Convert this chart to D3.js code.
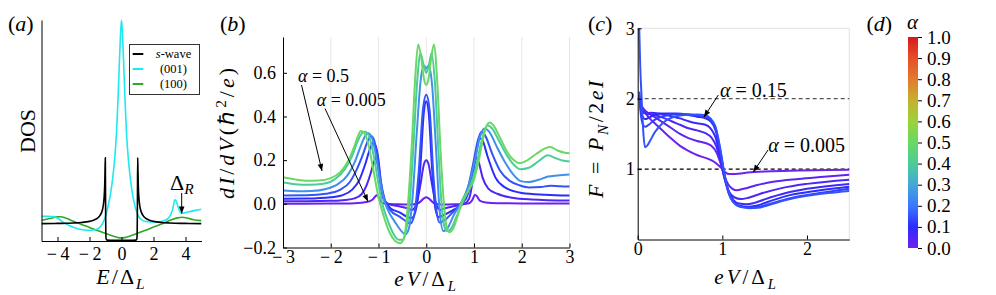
<!DOCTYPE html>
<html>
<head>
<meta charset="utf-8">
<script src="https://cdn.jsdelivr.net/npm/d3@7"></script>
<style>body{margin:0;background:#fff} text{font-family:'Liberation Serif','Times New Roman',serif}</style>
</head>
<body>
<script>
// ---------- data ----------

// panel (a): density of states
var dosSwave = [[-5,1.02],[-4,1.035],[-3,1.06],[-2.5,1.09],[-2,1.155],[-1.75,1.22],[-1.5,1.34],[-1.35,1.49],[-1.25,1.67],[-1.18,1.88],[-1.12,2.22],[-1.08,2.65],[-1.05,3.28],[-1.03,4.1],[-1.012,4.9],[-0.995,2.2],[-0.98,0.45],[-0.96,0.12],[-0.9,0.05],[-0.5,0.04],[0,0.04],
  [0.5,0.04],[0.9,0.05],[0.96,0.12],[0.98,0.45],[0.995,2.2],[1.012,4.9],[1.03,4.1],[1.05,3.28],[1.08,2.65],[1.12,2.22],[1.18,1.88],[1.25,1.67],[1.35,1.49],[1.5,1.34],[1.75,1.22],[2,1.155],[2.5,1.09],[3,1.06],[4,1.035],[5,1.02]];
var dos001 = [[-5,1.45],[-4.6,1.46],[-4.2,1.42],[-3.9,1.28],[-3.6,1.08],[-3.2,0.88],[-2.8,0.74],[-2.4,0.66],[-2,0.63],[-1.7,0.65],[-1.45,0.74],[-1.25,0.92],[-1.1,1.2],[-0.97,1.55],[-0.83,2.1],[-0.7,2.7],[-0.55,3.7],[-0.42,4.9],[-0.31,6.4],[-0.22,8.3],[-0.14,10.3],[-0.07,12.0],[0,13],
  [0.07,12.0],[0.14,10.3],[0.22,8.3],[0.31,6.4],[0.42,4.9],[0.55,3.7],[0.7,2.7],[0.83,2.1],[0.97,1.65],[1.1,1.4],[1.25,1.25],[1.45,1.16],[1.8,1.12],[2.2,1.12],[2.6,1.18],[2.9,1.32],[3.1,1.6],[3.22,1.95],[3.33,2.42],[3.42,2.35],[3.52,2.05],[3.62,1.78],[3.75,1.63],[3.9,1.64],[4.2,1.72],[4.6,1.8],[5,1.87]];
var dos100 = [[-5,1.22],[-4.5,1.32],[-4,1.42],[-3.8,1.43],[-3.5,1.35],[-3,1.16],[-2.5,0.97],[-2,0.8],[-1.5,0.62],[-1,0.45],[-0.5,0.28],[-0.2,0.2],[0,0.18],[0.2,0.2],[0.5,0.28],[1,0.45],[1.5,0.63],[2,0.82],[2.5,1.0],[3,1.2],[3.5,1.36],[3.8,1.4],[4.1,1.35],[4.5,1.25],[5,1.2]];

// panel (b): differential conductance for several alpha
var alphaB = [0.005, 0.05, 0.1, 0.15, 0.25, 0.4, 0.5];
var dIdV_005 = [[-3,0],[-2,0.001],[-1.5,0.003],[-1.25,0.008],[-1.12,0.02],[-1.05,0.038],[-1.02,0.04],[-0.98,0.02],[-0.9,0.003],[-0.6,-0.002],[-0.3,-0.003],[-0.15,0.005],[-0.05,0.025],[0,0.03],[0.05,0.025],[0.15,0.005],[0.3,-0.003],[0.6,-0.002],[0.9,0.003],[0.97,0.02],[1.02,0.042],[1.06,0.035],[1.12,0.015],[1.25,0.006],[1.5,0.003],[2,0.002],[3,0.001]];
var dIdV_05 = [[-3,0.012],[-2.5,0.012],[-2,0.014],[-1.7,0.018],[-1.5,0.025],[-1.35,0.045],[-1.25,0.085],[-1.15,0.15],[-1.08,0.2],[-1.05,0.21],[-1.01,0.18],[-0.96,0.09],[-0.9,0.025],[-0.8,0.0],[-0.6,-0.01],[-0.4,-0.02],[-0.3,-0.028],[-0.22,-0.01],[-0.12,0.09],[-0.05,0.18],[0,0.2],[0.05,0.18],[0.12,0.09],[0.22,-0.01],[0.3,-0.028],[0.4,-0.02],[0.6,-0.01],[0.8,0.0],[0.9,0.025],[0.96,0.09],[1.01,0.18],[1.06,0.21],[1.1,0.19],[1.18,0.12],[1.3,0.07],[1.5,0.045],[1.8,0.028],[2.2,0.02],[3,0.015]];
var dIdV_1 = [[-3,0.023],[-2.5,0.024],[-2,0.03],[-1.75,0.04],[-1.55,0.065],[-1.4,0.11],[-1.28,0.18],[-1.18,0.25],[-1.11,0.28],[-1.06,0.265],[-1.0,0.2],[-0.95,0.1],[-0.88,0.02],[-0.75,-0.02],[-0.55,-0.04],[-0.4,-0.06],[-0.3,-0.065],[-0.2,-0.01],[-0.12,0.18],[-0.05,0.42],[0,0.47],[0.05,0.42],[0.12,0.17],[0.19,-0.02],[0.26,-0.06],[0.38,-0.05],[0.55,-0.03],[0.75,0.0],[0.88,0.05],[0.97,0.14],[1.05,0.24],[1.12,0.3],[1.18,0.29],[1.28,0.22],[1.45,0.12],[1.65,0.075],[2.0,0.05],[2.5,0.042],[3,0.038]];
var dIdV_15 = [[-3,0.038],[-2.5,0.039],[-2.1,0.046],[-1.8,0.065],[-1.6,0.1],[-1.45,0.16],[-1.32,0.23],[-1.22,0.29],[-1.15,0.31],[-1.09,0.29],[-1.02,0.21],[-0.95,0.1],[-0.87,0.02],[-0.75,-0.03],[-0.55,-0.06],[-0.42,-0.08],[-0.33,-0.09],[-0.25,-0.05],[-0.16,0.14],[-0.07,0.43],[0,0.5],[0.07,0.43],[0.15,0.13],[0.22,-0.04],[0.28,-0.085],[0.38,-0.075],[0.55,-0.04],[0.72,0.0],[0.87,0.07],[0.98,0.18],[1.08,0.29],[1.16,0.33],[1.24,0.31],[1.38,0.23],[1.55,0.15],[1.75,0.105],[1.95,0.085],[2.15,0.075],[2.4,0.077],[2.6,0.083],[2.8,0.08],[3,0.079]];
var dIdV_25 = [[-3,0.061],[-2.7,0.058],[-2.4,0.059],[-2.1,0.068],[-1.85,0.09],[-1.65,0.13],[-1.5,0.19],[-1.38,0.26],[-1.28,0.31],[-1.22,0.324],[-1.15,0.31],[-1.07,0.24],[-0.98,0.12],[-0.9,0.03],[-0.8,-0.03],[-0.65,-0.085],[-0.52,-0.125],[-0.43,-0.14],[-0.36,-0.11],[-0.29,0.02],[-0.2,0.32],[-0.12,0.56],[-0.05,0.634],[0,0.62],[0.05,0.634],[0.12,0.55],[0.2,0.27],[0.28,-0.03],[0.36,-0.125],[0.45,-0.11],[0.58,-0.05],[0.72,0.0],[0.88,0.08],[1.02,0.2],[1.13,0.31],[1.22,0.345],[1.32,0.33],[1.48,0.26],[1.65,0.19],[1.82,0.135],[1.98,0.104],[2.15,0.1],[2.35,0.11],[2.55,0.125],[2.75,0.13],[3,0.134]];
var dIdV_4 = [[-3,0.099],[-2.75,0.09],[-2.45,0.087],[-2.15,0.092],[-1.9,0.115],[-1.7,0.16],[-1.55,0.22],[-1.43,0.29],[-1.33,0.327],[-1.28,0.33],[-1.2,0.31],[-1.1,0.22],[-1.0,0.09],[-0.92,0.0],[-0.8,-0.08],[-0.68,-0.14],[-0.57,-0.165],[-0.5,-0.165],[-0.43,-0.13],[-0.36,-0.03],[-0.28,0.22],[-0.19,0.56],[-0.12,0.69],[-0.06,0.64],[0,0.6],[0.06,0.64],[0.11,0.69],[0.18,0.56],[0.26,0.22],[0.33,-0.03],[0.4,-0.115],[0.45,-0.125],[0.53,-0.11],[0.63,-0.06],[0.75,0.0],[0.9,0.07],[1.03,0.16],[1.15,0.28],[1.28,0.36],[1.38,0.345],[1.52,0.29],[1.68,0.225],[1.84,0.178],[1.97,0.158],[2.15,0.165],[2.35,0.195],[2.55,0.222],[2.7,0.21],[2.85,0.198],[3,0.194]];
var dIdV_5 = [[-3,0.122],[-2.75,0.112],[-2.5,0.106],[-2.25,0.107],[-2.0,0.118],[-1.8,0.145],[-1.65,0.19],[-1.52,0.255],[-1.43,0.31],[-1.37,0.333],[-1.3,0.325],[-1.22,0.28],[-1.12,0.17],[-1.0,0.03],[-0.9,-0.05],[-0.77,-0.13],[-0.65,-0.17],[-0.55,-0.18],[-0.47,-0.16],[-0.39,-0.02],[-0.3,0.28],[-0.23,0.58],[-0.17,0.73],[-0.1,0.66],[-0.05,0.575],[0,0.545],[0.05,0.575],[0.1,0.66],[0.16,0.73],[0.23,0.56],[0.3,0.24],[0.37,0.0],[0.43,-0.11],[0.48,-0.13],[0.56,-0.115],[0.65,-0.06],[0.73,0.0],[0.88,0.06],[1.0,0.11],[1.1,0.2],[1.2,0.31],[1.27,0.36],[1.33,0.372],[1.42,0.355],[1.55,0.3],[1.7,0.235],[1.85,0.197],[1.95,0.186],[2.1,0.197],[2.3,0.228],[2.5,0.255],[2.6,0.26],[2.75,0.244],[2.9,0.234],[3,0.232]];
var seriesB = [dIdV_005, dIdV_05, dIdV_1, dIdV_15, dIdV_25, dIdV_4, dIdV_5];

// panel (c): Fano factor for several alpha
var alphaC = [0.005, 0.025, 0.05, 0.075, 0.1, 0.125, 0.15];
var fano_005 = [[0.03,1.95],[0.06,1.86],[0.1,1.78],[0.15,1.71],[0.22,1.63],[0.3,1.54],[0.4,1.43],[0.5,1.33],[0.6,1.26],[0.7,1.2],[0.8,1.16],[0.88,1.12],[0.94,1.07],[1.0,1.0],[1.04,0.95],[1.08,0.93],[1.15,0.93],[1.3,0.95],[1.5,0.965],[1.8,0.975],[2.1,0.985],[2.5,0.99]];
var fano_025 = [[0.03,1.94],[0.06,1.87],[0.1,1.82],[0.2,1.74],[0.3,1.66],[0.4,1.58],[0.5,1.5],[0.6,1.44],[0.7,1.4],[0.8,1.37],[0.87,1.33],[0.93,1.24],[0.98,1.08],[1.02,0.92],[1.07,0.78],[1.12,0.72],[1.17,0.7],[1.25,0.72],[1.4,0.77],[1.6,0.82],[1.9,0.86],[2.2,0.89],[2.5,0.92]];
var fano_05 = [[0.03,1.92],[0.06,1.83],[0.1,1.79],[0.15,1.78],[0.25,1.75],[0.4,1.68],[0.5,1.63],[0.6,1.58],[0.7,1.55],[0.8,1.51],[0.87,1.45],[0.93,1.32],[0.98,1.1],[1.03,0.85],[1.08,0.68],[1.14,0.6],[1.22,0.575],[1.3,0.59],[1.45,0.65],[1.7,0.73],[2.0,0.79],[2.5,0.85]];
var fano_075 = [[0.025,1.98],[0.04,1.86],[0.07,1.8],[0.1,1.79],[0.15,1.8],[0.25,1.79],[0.4,1.75],[0.5,1.72],[0.6,1.68],[0.7,1.65],[0.8,1.63],[0.86,1.58],[0.92,1.45],[0.97,1.2],[1.02,0.9],[1.07,0.68],[1.13,0.56],[1.2,0.51],[1.28,0.5],[1.38,0.52],[1.5,0.57],[1.75,0.66],[2.0,0.72],[2.5,0.79]];
var fano_1 = [[0.02,2.05],[0.035,1.84],[0.06,1.74],[0.09,1.71],[0.13,1.73],[0.2,1.77],[0.3,1.79],[0.45,1.79],[0.6,1.77],[0.7,1.745],[0.8,1.72],[0.86,1.68],[0.92,1.55],[0.97,1.28],[1.02,0.95],[1.07,0.7],[1.13,0.55],[1.2,0.48],[1.3,0.465],[1.4,0.48],[1.55,0.54],[1.8,0.63],[2.1,0.69],[2.5,0.75]];
var fano_125 = [[0.02,2.1],[0.035,1.8],[0.06,1.64],[0.09,1.6],[0.13,1.63],[0.2,1.7],[0.3,1.75],[0.45,1.78],[0.6,1.78],[0.7,1.76],[0.8,1.74],[0.86,1.7],[0.92,1.58],[0.97,1.3],[1.02,0.95],[1.07,0.68],[1.13,0.53],[1.22,0.465],[1.35,0.455],[1.45,0.47],[1.6,0.52],[1.85,0.6],[2.15,0.66],[2.5,0.72]];
var fano_15 = [[0.018,3.0],[0.03,2.45],[0.047,2.0],[0.065,1.55],[0.086,1.31],[0.11,1.33],[0.15,1.41],[0.2,1.52],[0.3,1.66],[0.42,1.74],[0.55,1.77],[0.7,1.775],[0.8,1.765],[0.86,1.72],[0.92,1.6],[0.97,1.33],[1.02,0.97],[1.07,0.68],[1.13,0.53],[1.22,0.46],[1.32,0.445],[1.42,0.45],[1.55,0.49],[1.75,0.56],[2.0,0.62],[2.25,0.66],[2.5,0.69]];
var seriesC = [fano_005, fano_025, fano_05, fano_075, fano_1, fano_125, fano_15];

// colour map of alpha (colorbar stops)
var cmapStops = [0, 0.1, 0.2, 0.3, 0.4, 0.5, 0.6, 0.7, 0.8, 0.9, 1.0];
var cmapColors = ["#7020f0", "#2c2cfc", "#3a78ff", "#44a8d8", "#4ccc98", "#68d866", "#9cd23a", "#c4b02e", "#e27a2e", "#e45028", "#d8181c"];
var cbTicks = [0, 0.1, 0.2, 0.3, 0.4, 0.5, 0.6, 0.7, 0.8, 0.9, 1.0];

var ticksA = [-4, -2, 0, 2, 4];
var ticksBx = [-3, -2, -1, 0, 1, 2, 3];
var ticksBy = [-0.2, 0, 0.2, 0.4, 0.6];
var ticksCx = [0, 1, 2];
var ticksCy = [1, 2, 3];

// ---------- drawing ----------
var serif = "'Liberation Serif', 'Times New Roman', serif";
var svg = d3.select("body").append("svg").attr("width", 996).attr("height", 295);
svg.append("rect").attr("width", 996).attr("height", 295).attr("fill", "#fff");

var cmap = d3.scaleLinear().domain(cmapStops).range(cmapColors).interpolate(d3.interpolateRgb);
var minus = function (s) { return s.replace("-", "\u2212\u2009"); };

// text with italic / sub / sup parts
function mathText(parent, parts, size) {
    var t = parent.append("text").style("font-family", serif).attr("font-size", size).attr("fill", "#000");
    var shift = 0;
    parts.forEach(function (p) {
        var s = p[0], k = p[1];
        var sp = t.append("tspan").text(s);
        var target = 0;
        if (k.indexOf("sub") >= 0) target = size * 0.22;
        if (k.indexOf("sup") >= 0) target = -size * 0.38;
        if (target !== shift) sp.attr("dy", target - shift);
        shift = target;
        if (k.indexOf("sub") >= 0 || k.indexOf("sup") >= 0) sp.attr("font-size", size * 0.7);
        if (k.indexOf("i") >= 0) sp.attr("font-style", "italic");
    });
    return t;
}

function styleAxis(g, size) {
    g.attr("font-family", null);
    g.selectAll("text").style("font-family", serif).attr("font-size", size).attr("fill", "#000");
    g.selectAll(".tick line").attr("stroke", "#000");
    g.select(".domain").attr("stroke", "#000");
}

// arrowhead
svg.append("defs").append("marker")
    .attr("id", "head").attr("viewBox", "0 0 10 10").attr("refX", 10).attr("refY", 5)
    .attr("markerWidth", 8).attr("markerHeight", 7).attr("markerUnits", "userSpaceOnUse")
    .attr("orient", "auto")
    .append("path").attr("d", "M0,1 L10,5 L0,9 z").attr("fill", "#000");

function arrow(x1, y1, x2, y2) {
    svg.append("line").attr("x1", x1).attr("y1", y1).attr("x2", x2).attr("y2", y2)
        .attr("stroke", "#000").attr("stroke-width", 1).attr("marker-end", "url(#head)");
}

// ===== panel (a) =====
var xa = d3.scaleLinear([-5, 5], [41.5, 201.5]);
var ya = d3.scaleLinear([0, 13], [241, 20]);
var lineA = d3.line().x(function (d) { return xa(d[0]); }).y(function (d) { return ya(d[1]); }).curve(d3.curveMonotoneX);

svg.append("clipPath").attr("id", "clipA").append("rect").attr("x", 41.5).attr("y", 19).attr("width", 160).attr("height", 222);
var gA = svg.append("g").attr("clip-path", "url(#clipA)");
gA.append("path").datum(dos100).attr("d", lineA).attr("fill", "none").attr("stroke", "#2fa82a").attr("stroke-width", 1.6);
gA.append("path").datum(dos001).attr("d", lineA).attr("fill", "none").attr("stroke", "#1ee8f2").attr("stroke-width", 1.6);
gA.append("path").datum(dosSwave).attr("d", lineA).attr("fill", "none").attr("stroke", "#000").attr("stroke-width", 1.6);

var axA = svg.append("g").attr("transform", "translate(0,241)")
    .call(d3.axisBottom(xa).tickValues(ticksA).tickSize(-4).tickSizeOuter(0).tickPadding(6)
        .tickFormat(function (d) { return minus(String(d)); }));
styleAxis(axA, 18);
var ayA = svg.append("g").attr("transform", "translate(41.5,0)")
    .call(d3.axisLeft(ya).tickValues([]).tickSizeOuter(0));
styleAxis(ayA, 18);

// legend
var leg = svg.append("g");
leg.append("rect").attr("x", 129.5).attr("y", 44.5).attr("width", 70).attr("height", 50)
    .attr("fill", "#fff").attr("stroke", "#333").attr("stroke-width", 1);
var legItems = [["#000", [["s", "i"], ["-wave", "r"]]], ["#1ee8f2", [["(001)", "r"]]], ["#2fa82a", [["(100)", "r"]]]];
legItems.forEach(function (it, i) {
    var yy = 54 + i * 15;
    leg.append("line").attr("x1", 132.7).attr("x2", 143.3).attr("y1", yy).attr("y2", yy)
        .attr("stroke", it[0]).attr("stroke-width", 2);
    mathText(leg, it[1], 12.5).attr("x", 173.5).attr("y", yy + 4.3).attr("text-anchor", "middle");
});

// Delta_R annotation
mathText(svg, [["\u0394", "r"], ["R", "isub"]], 22).attr("x", 170).attr("y", 189.5);
arrow(181.7, 193, 181.7, 213.5);

mathText(svg, [["(", "r"], ["a", "i"], [")", "r"]], 22).attr("x", 8).attr("y", 31);
mathText(svg.append("g").attr("transform", "translate(35,131) rotate(-90)"), [["DOS", "r"]], 22).attr("text-anchor", "middle");
mathText(svg, [["E", "i"], ["/\u0394", "r"], ["L", "isub"]], 22).attr("x", 121.5).attr("y", 284).attr("text-anchor", "middle").attr("letter-spacing", 2);

// ===== panel (b) =====
var xb = d3.scaleLinear([-3, 3], [283, 569.5]);
var yb = d3.scaleLinear([-0.2, 0.764], [247.5, 37]);
var lineB = d3.line().x(function (d) { return xb(d[0]); }).y(function (d) { return yb(d[1]); }).curve(d3.curveMonotoneX);

svg.append("g").selectAll("line").data(ticksBx.slice(1)).join("line")
    .attr("x1", function (d) { return xb(d); }).attr("x2", function (d) { return xb(d); })
    .attr("y1", 37).attr("y2", 247.5).attr("stroke", "#e8e8e8").attr("stroke-width", 1);

svg.append("g").selectAll("path").data(seriesB).join("path")
    .attr("d", lineB).attr("fill", "none")
    .attr("stroke", function (d, i) { return cmap(alphaB[i]); })
    .attr("stroke-width", 2);

var axB = svg.append("g").attr("transform", "translate(0,247.5)")
    .call(d3.axisBottom(xb).tickValues(ticksBx).tickSize(-4).tickSizeOuter(0).tickPadding(3)
        .tickFormat(function (d) { return minus(String(d)); }));
styleAxis(axB, 18);
var ayB = svg.append("g").attr("transform", "translate(283,0)")
    .call(d3.axisLeft(yb).tickValues(ticksBy).tickSize(-4).tickSizeOuter(0).tickPadding(7)
        .tickFormat(function (d) { return minus(d3.format(".1f")(d)); }));
styleAxis(ayB, 18);

mathText(svg, [["(", "r"], ["b", "i"], [")", "r"]], 22).attr("x", 220).attr("y", 31);
mathText(svg.append("g").attr("transform", "translate(234,132) rotate(-90)"),
    [["dI", "i"], ["/", "r"], ["dV", "i"], ["(\u210F", "r"], ["2", "sup"], ["/", "r"], ["e", "i"], [")", "r"]], 22)
    .attr("text-anchor", "middle").attr("letter-spacing", 3);
mathText(svg, [["eV", "i"], ["/\u0394", "r"], ["L", "isub"]], 21).attr("x", 426.7).attr("y", 286).attr("text-anchor", "middle").attr("letter-spacing", 3);

mathText(svg, [["\u03B1", "i"], [" = 0.5", "r"]], 18).attr("x", 298).attr("y", 82);
mathText(svg, [["\u03B1", "i"], [" = 0.005", "r"]], 18).attr("x", 316.7).attr("y", 106);
arrow(301.5, 85, 322, 171);
arrow(325, 108.5, 368, 201.5);

// ===== panel (c) =====
var xc = d3.scaleLinear([0, 2.5], [637.7, 849.3]);
var yc = d3.scaleLinear([0, 3], [239.5, 28.3]);
var lineC = d3.line().x(function (d) { return xc(d[0]); }).y(function (d) { return yc(d[1]); }).curve(d3.curveMonotoneX);

svg.append("line").attr("x1", xc(0)).attr("x2", xc(2.5)).attr("y1", yc(3)).attr("y2", yc(3)).attr("stroke", "#e2e2e2");
svg.append("line").attr("x1", xc(2.5)).attr("x2", xc(2.5)).attr("y1", yc(3)).attr("y2", yc(0)).attr("stroke", "#e2e2e2");
svg.append("line").attr("x1", xc(0)).attr("x2", xc(2.5)).attr("y1", yc(2)).attr("y2", yc(2))
    .attr("stroke", "#555").attr("stroke-width", 1.2).attr("stroke-dasharray", "4,3");
svg.append("line").attr("x1", xc(0)).attr("x2", xc(2.5)).attr("y1", yc(1)).attr("y2", yc(1))
    .attr("stroke", "#000").attr("stroke-width", 1.2).attr("stroke-dasharray", "4,3");

svg.append("clipPath").attr("id", "clipC").append("rect").attr("x", 637.7).attr("y", 28.3).attr("width", 211.6).attr("height", 211.2);
svg.append("g").attr("clip-path", "url(#clipC)").selectAll("path").data(seriesC).join("path")
    .attr("d", lineC).attr("fill", "none")
    .attr("stroke", function (d, i) { return cmap(alphaC[i]); })
    .attr("stroke-width", 2);

var axC = svg.append("g").attr("transform", "translate(0,239.5)")
    .call(d3.axisBottom(xc).tickValues(ticksCx).tickSize(-4).tickSizeOuter(0).tickPadding(3)
        .tickFormat(d3.format("d")));
styleAxis(axC, 18);
var ayC = svg.append("g").attr("transform", "translate(637.7,0)")
    .call(d3.axisLeft(yc).tickValues(ticksCy).tickSize(-4).tickSizeOuter(0).tickPadding(3)
        .tickFormat(d3.format("d")));
styleAxis(ayC, 18);

mathText(svg, [["(", "r"], ["c", "i"], [")", "r"]], 22).attr("x", 588).attr("y", 31);
mathText(svg.append("g").attr("transform", "translate(603,138) rotate(-90)"),
    [["F", "i"], [" = ", "r"], ["P", "i"], ["N", "isub"], ["/2", "r"], ["eI", "i"]], 22)
    .attr("text-anchor", "middle").attr("letter-spacing", 2.5);
mathText(svg, [["eV", "i"], ["/\u0394", "r"], ["L", "isub"]], 21).attr("x", 746.7).attr("y", 284).attr("text-anchor", "middle").attr("letter-spacing", 3);

mathText(svg, [["\u03B1", "i"], [" = 0.15", "r"]], 20).attr("x", 720).attr("y", 97);
mathText(svg, [["\u03B1", "i"], [" = 0.005", "r"]], 20).attr("x", 768.3).attr("y", 151.5);
arrow(718.3, 95, 704, 117);
arrow(768, 150, 753.3, 172);

// ===== colorbar (d) =====
var ycb = d3.scaleLinear([0, 1], [248, 37]);
var grad = svg.select("defs").append("linearGradient").attr("id", "cbGrad")
    .attr("x1", 0).attr("y1", 1).attr("x2", 0).attr("y2", 0);
grad.selectAll("stop").data(cmapStops).join("stop")
    .attr("offset", function (d) { return d; })
    .attr("stop-color", function (d, i) { return cmapColors[i]; });
svg.append("rect").attr("x", 908).attr("y", ycb(1)).attr("width", 10).attr("height", ycb(0) - ycb(1))
    .attr("fill", "url(#cbGrad)");
var axCb = svg.append("g").attr("transform", "translate(918,0)")
    .call(d3.axisRight(ycb).tickValues(cbTicks).tickSize(4).tickSizeOuter(0).tickPadding(5)
        .tickFormat(d3.format(".1f")));
styleAxis(axCb, 19);
axCb.select(".domain").attr("stroke", "none");

mathText(svg, [["(", "r"], ["d", "i"], [")", "r"]], 22).attr("x", 866.5).attr("y", 31);
mathText(svg, [["\u03B1", "i"]], 21).attr("x", 912.5).attr("y", 28.5).attr("text-anchor", "middle");
</script>
</body>
</html>
